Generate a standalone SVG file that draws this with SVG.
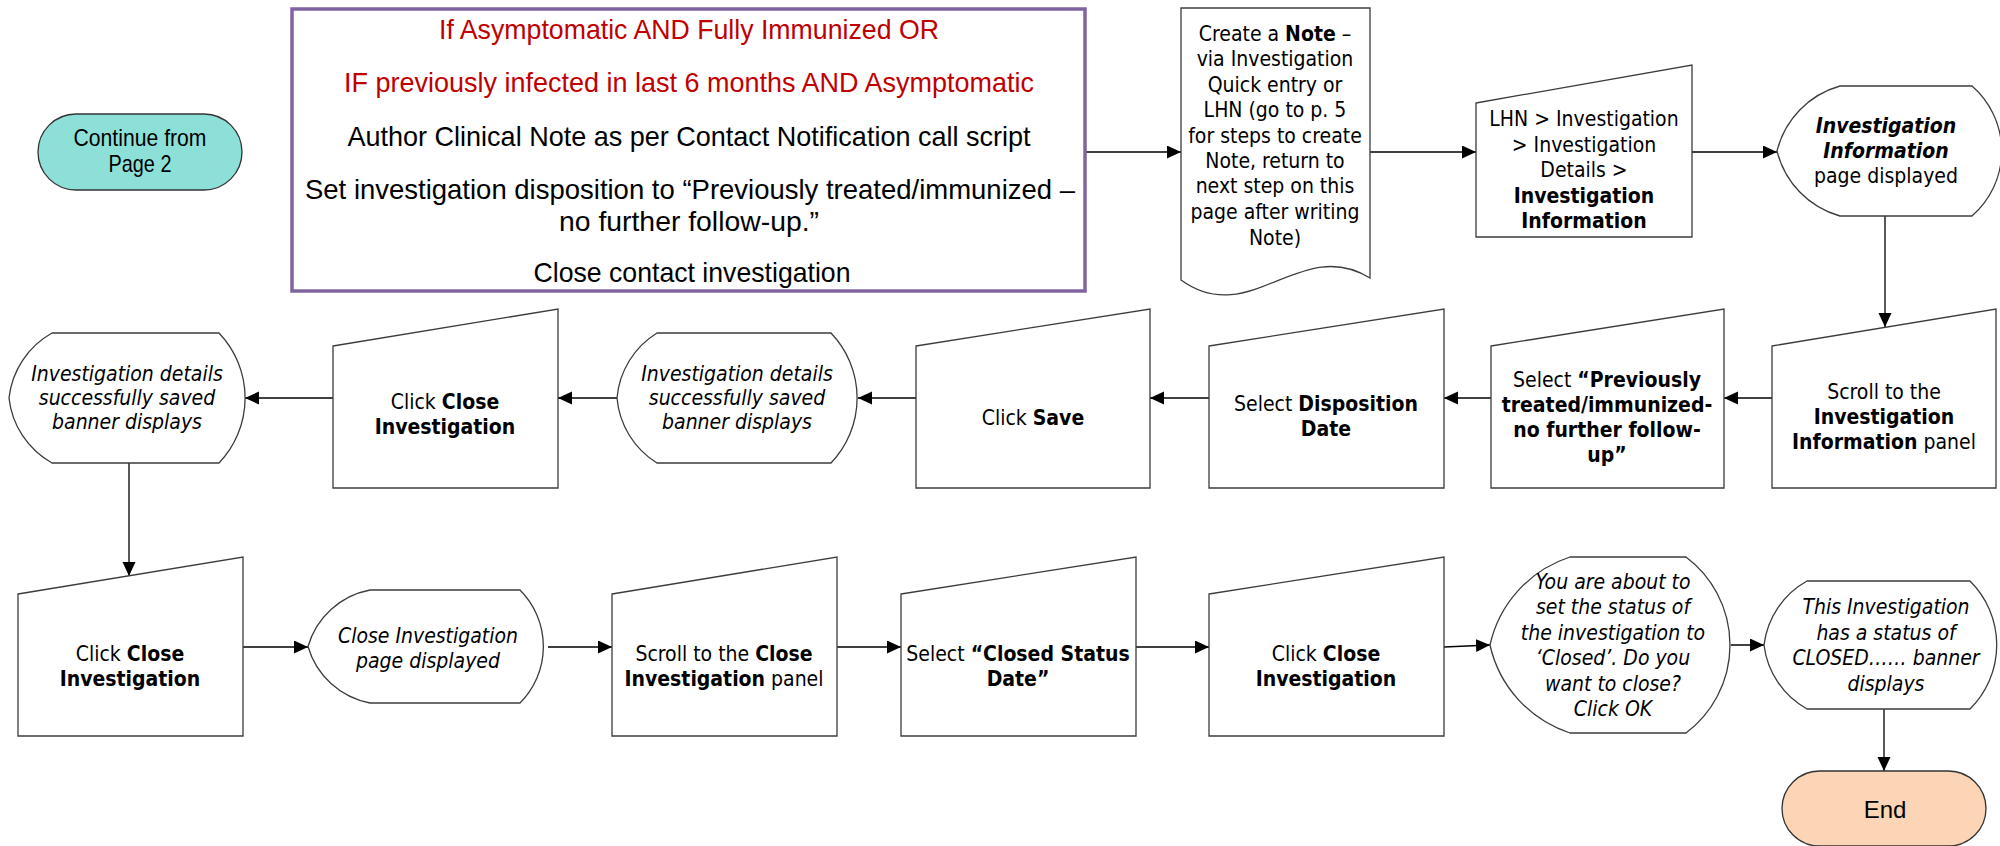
<svg xmlns="http://www.w3.org/2000/svg" width="2000" height="846" viewBox="0 0 2000 846">
<defs>
<style>
.n{fill:#fff;stroke:#3c3c3c;stroke-width:1.3}
.t{font-family:"DejaVu Sans Condensed","DejaVu Sans",sans-serif;font-stretch:condensed;font-size:21px;fill:#000;text-anchor:middle}
.b{font-weight:bold}
.i{font-style:italic}
.p{font-family:"Liberation Sans Narrow","Liberation Sans",sans-serif;font-size:28px;text-anchor:middle;fill:#000}
.r{fill:#C00000}
.cal{font-family:"Liberation Sans Narrow","Liberation Sans",sans-serif;font-size:24px;text-anchor:middle;fill:#000}
#connectors line,#connectors path{stroke:#000;stroke-width:1.3;fill:none;marker-end:url(#ah)}
</style>
<marker id="ah" markerUnits="userSpaceOnUse" markerWidth="15" markerHeight="14" refX="14" refY="6.5" orient="auto">
<path d="M0,0 L14,6.5 L0,13 Z" fill="#000"/>
</marker>
</defs>
<rect width="2000" height="846" fill="#fff"/>

<g id="connectors">
<line x1="1086" y1="152" x2="1181" y2="152"/>
<line x1="1370" y1="152" x2="1476" y2="152"/>
<line x1="1692" y1="152" x2="1777" y2="152"/>
<line x1="1885" y1="216" x2="1885" y2="327"/>
<line x1="1772" y1="398" x2="1724" y2="398"/>
<line x1="1491" y1="398" x2="1444" y2="398"/>
<line x1="1209" y1="398" x2="1150" y2="398"/>
<line x1="916" y1="398" x2="858" y2="398"/>
<line x1="617" y1="398" x2="558" y2="398"/>
<line x1="333" y1="398" x2="245" y2="398"/>
<line x1="129" y1="463" x2="129" y2="576"/>
<line x1="243" y1="647" x2="308" y2="647"/>
<line x1="548" y1="647" x2="612" y2="647"/>
<line x1="837" y1="647" x2="901" y2="647"/>
<line x1="1136" y1="647" x2="1209" y2="647"/>
<line x1="1444" y1="647" x2="1490" y2="645"/>
<line x1="1731" y1="645" x2="1764" y2="645"/>
<line x1="1884" y1="709" x2="1884" y2="771"/>
</g>

<g id="continue">
<rect x="38" y="114" width="204" height="76" rx="38" ry="38" fill="#8DE0D8" stroke="#333" stroke-width="1.3"/>
<text class="cal" x="140" y="146" textLength="133" lengthAdjust="spacingAndGlyphs">Continue from</text>
<text class="cal" x="140" y="172" textLength="63" lengthAdjust="spacingAndGlyphs">Page 2</text>
</g>

<g id="condition">
<rect x="292" y="9" width="793" height="282" fill="#fff" stroke="#8064A2" stroke-width="3.5"/>
<text class="p r" x="689" y="39" textLength="500" lengthAdjust="spacingAndGlyphs">If Asymptomatic AND Fully Immunized OR</text>
<text class="p r" x="689" y="92" textLength="690" lengthAdjust="spacingAndGlyphs">IF previously infected in last 6 months AND Asymptomatic</text>
<text class="p" x="689" y="146" textLength="683" lengthAdjust="spacingAndGlyphs">Author Clinical Note as per Contact Notification call script</text>
<text class="p" x="690" y="199" textLength="770" lengthAdjust="spacingAndGlyphs">Set investigation disposition to “Previously treated/immunized –</text>
<text class="p" x="689" y="231" textLength="260" lengthAdjust="spacingAndGlyphs">no further follow-up.”</text>
<text class="p" x="692" y="282" textLength="317" lengthAdjust="spacingAndGlyphs">Close contact investigation</text>
</g>

<g id="note">
<path class="n" d="M1181,8 H1370 V278 C1300,235 1250,330 1181,280 Z"/>
<text class="t" x="1275" y="41">Create a <tspan class="b">Note</tspan> –</text>
<text class="t" x="1275" y="66">via Investigation</text>
<text class="t" x="1275" y="92">Quick entry or</text>
<text class="t" x="1275" y="117">LHN (go to p. 5</text>
<text class="t" x="1275" y="143">for steps to create</text>
<text class="t" x="1275" y="168">Note, return to</text>
<text class="t" x="1275" y="193">next step on this</text>
<text class="t" x="1275" y="219">page after writing</text>
<text class="t" x="1275" y="245">Note)</text>
</g>

<g id="lhn">
<path class="n" d="M1476,103 L1692,65 L1692,237 L1476,237 Z"/>
<text class="t" x="1584" y="126">LHN &gt; Investigation</text>
<text class="t" x="1584" y="152">&gt; Investigation</text>
<text class="t" x="1584" y="177">Details &gt;</text>
<text class="t b" x="1584" y="203">Investigation</text>
<text class="t b" x="1584" y="228">Information</text>
</g>

<g id="info-displayed">
<path class="n" d="M1840,86 L1972,86 A86,86 0 0 1 1972,216 L1840,216 A90,90 0 0 1 1777,151 A90,90 0 0 1 1840,86 Z"/>
<text class="t b i" x="1886" y="133">Investigation</text>
<text class="t b i" x="1886" y="158">Information</text>
<text class="t" x="1886" y="183">page displayed</text>
</g>

<g id="scroll-info">
<path class="n" d="M1772,346 L1996,309 L1996,488 L1772,488 Z"/>
<text class="t" x="1884" y="399">Scroll to the</text>
<text class="t b" x="1884" y="424">Investigation</text>
<text class="t" x="1884" y="449"><tspan class="b">Information</tspan> panel</text>
</g>

<g id="select-previously">
<path class="n" d="M1491,346 L1724,309 L1724,488 L1491,488 Z"/>
<text class="t" x="1607" y="387">Select <tspan class="b">“Previously</tspan></text>
<text class="t b" x="1607" y="412">treated/immunized-</text>
<text class="t b" x="1607" y="437">no further follow-</text>
<text class="t b" x="1607" y="462">up”</text>
</g>

<g id="select-disposition">
<path class="n" d="M1209,346 L1444,309 L1444,488 L1209,488 Z"/>
<text class="t" x="1326" y="411">Select <tspan class="b">Disposition</tspan></text>
<text class="t b" x="1326" y="436">Date</text>
</g>

<g id="click-save">
<path class="n" d="M916,346 L1150,309 L1150,488 L916,488 Z"/>
<text class="t" x="1033" y="425">Click <tspan class="b">Save</tspan></text>
</g>

<g id="saved-banner-1">
<path class="n" d="M657,333 L831,333 A94,94 0 0 1 831,463 L657,463 A85,85 0 0 1 617,398 A85,85 0 0 1 657,333 Z"/>
<text class="t i" x="737" y="381">Investigation details</text>
<text class="t i" x="737" y="405">successfully saved</text>
<text class="t i" x="737" y="429">banner displays</text>
</g>

<g id="click-close-1">
<path class="n" d="M333,346 L558,309 L558,488 L333,488 Z"/>
<text class="t" x="445" y="409">Click <tspan class="b">Close</tspan></text>
<text class="t b" x="445" y="434">Investigation</text>
</g>

<g id="saved-banner-2">
<path class="n" d="M52,333 L219,333 A94,94 0 0 1 219,463 L52,463 A85,85 0 0 1 9,398 A85,85 0 0 1 52,333 Z"/>
<text class="t i" x="127" y="381">Investigation details</text>
<text class="t i" x="127" y="405">successfully saved</text>
<text class="t i" x="127" y="429">banner displays</text>
</g>

<g id="click-close-2">
<path class="n" d="M18,594 L243,557 L243,736 L18,736 Z"/>
<text class="t" x="130" y="661">Click <tspan class="b">Close</tspan></text>
<text class="t b" x="130" y="686">Investigation</text>
</g>

<g id="close-page-displayed">
<path class="n" d="M370,590 L520,590 A80,80 0 0 1 520,703 L370,703 A80,80 0 0 1 308,646.5 A80,80 0 0 1 370,590 Z"/>
<text class="t i" x="428" y="643">Close Investigation</text>
<text class="t i" x="428" y="668">page displayed</text>
</g>

<g id="scroll-close">
<path class="n" d="M612,594 L837,557 L837,736 L612,736 Z"/>
<text class="t" x="724" y="661">Scroll to the <tspan class="b">Close</tspan></text>
<text class="t" x="724" y="686"><tspan class="b">Investigation</tspan> panel</text>
</g>

<g id="select-closed-date">
<path class="n" d="M901,594 L1136,557 L1136,736 L901,736 Z"/>
<text class="t" x="1018" y="661">Select <tspan class="b">“Closed Status</tspan></text>
<text class="t b" x="1018" y="686">Date”</text>
</g>

<g id="click-close-3">
<path class="n" d="M1209,594 L1444,557 L1444,736 L1209,736 Z"/>
<text class="t" x="1326" y="661">Click <tspan class="b">Close</tspan></text>
<text class="t b" x="1326" y="686">Investigation</text>
</g>

<g id="confirm-close">
<path class="n" d="M1570,557 L1686,557 A110,110 0 0 1 1686,733 L1570,733 A120,120 0 0 1 1490,645 A120,120 0 0 1 1570,557 Z"/>
<text class="t i" x="1613" y="589">You are about to</text>
<text class="t i" x="1613" y="614">set the status of</text>
<text class="t i" x="1613" y="640">the investigation to</text>
<text class="t i" x="1613" y="665">‘Closed’. Do you</text>
<text class="t i" x="1613" y="691">want to close?</text>
<text class="t i" x="1613" y="716">Click OK</text>
</g>

<g id="closed-banner">
<path class="n" d="M1807,581 L1970,581 A90,90 0 0 1 1970,709 L1807,709 A85,85 0 0 1 1764,645 A85,85 0 0 1 1807,581 Z"/>
<text class="t i" x="1886" y="614">This Investigation</text>
<text class="t i" x="1886" y="640">has a status of</text>
<text class="t i" x="1886" y="665">CLOSED…… banner</text>
<text class="t i" x="1886" y="691">displays</text>
</g>

<g id="end">
<rect x="1782" y="771" width="204" height="75" rx="37.5" ry="37.5" fill="#FBD5B5" stroke="#333" stroke-width="1.3"/>
<text class="cal" x="1885" y="818">End</text>
</g>
</svg>
